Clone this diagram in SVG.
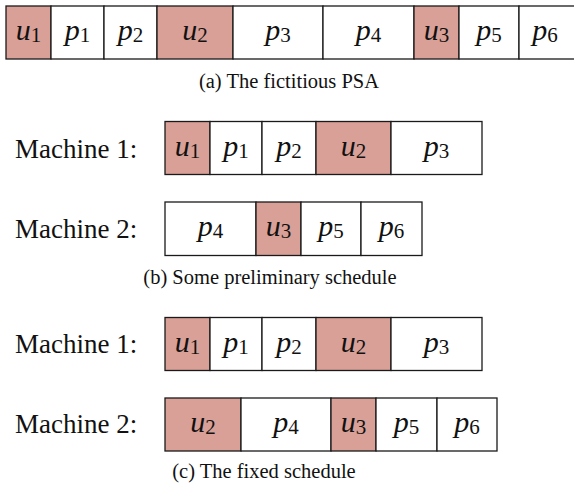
<svg xmlns="http://www.w3.org/2000/svg" width="574" height="487" viewBox="0 0 574 487">
  <style>
    .cell { fill: #ffffff; stroke: #1a1a1a; stroke-width: 1.3; }
    .hl { fill: #d9a097; }
    .math { font-family: "Liberation Serif", "DejaVu Serif", serif; font-style: italic; font-size: 30px; fill: #111; text-anchor: middle; }
    .sub { font-style: normal; font-size: 21px; }
    .label { font-family: "Liberation Serif", "DejaVu Serif", serif; font-size: 27px; fill: #111; }
    .cap { font-family: "Liberation Serif", "DejaVu Serif", serif; font-size: 20.5px; fill: #111; text-anchor: middle; }
  </style>

  <!-- (a) single sequence of jobs -->
  <g id="psa">
    <rect class="cell hl" x="6" y="6" width="45" height="53"/>
    <rect class="cell" x="51" y="6" width="53" height="53"/>
    <rect class="cell" x="104" y="6" width="53" height="53"/>
    <rect class="cell hl" x="157" y="6" width="76" height="53"/>
    <rect class="cell" x="233" y="6" width="90" height="53"/>
    <rect class="cell" x="323" y="6" width="91" height="53"/>
    <rect class="cell hl" x="414" y="6" width="45" height="53"/>
    <rect class="cell" x="459" y="6" width="60" height="53"/>
    <rect class="cell" x="519" y="6" width="60" height="53"/>
    <text class="math" x="28.5" y="40">u<tspan class="sub" dy="2">1</tspan></text>
    <text class="math" x="77.5" y="40">p<tspan class="sub" dy="2">1</tspan></text>
    <text class="math" x="130.5" y="40">p<tspan class="sub" dy="2">2</tspan></text>
    <text class="math" x="195" y="40">u<tspan class="sub" dy="2">2</tspan></text>
    <text class="math" x="278" y="40">p<tspan class="sub" dy="2">3</tspan></text>
    <text class="math" x="368.5" y="40">p<tspan class="sub" dy="2">4</tspan></text>
    <text class="math" x="436.5" y="40">u<tspan class="sub" dy="2">3</tspan></text>
    <text class="math" x="489" y="40">p<tspan class="sub" dy="2">5</tspan></text>
    <text class="math" x="545" y="40">p<tspan class="sub" dy="2">6</tspan></text>
  </g>
  <text class="cap" x="289" y="88">(a) The fictitious PSA</text>

  <!-- (b) preliminary schedule, machine 1 -->
  <g id="prelim-m1">
    <text class="label" x="15" y="157.5">Machine 1:</text>
    <rect class="cell hl" x="165" y="121.5" width="45" height="53"/>
    <rect class="cell" x="210" y="121.5" width="52" height="53"/>
    <rect class="cell" x="262" y="121.5" width="54" height="53"/>
    <rect class="cell hl" x="316" y="121.5" width="75" height="53"/>
    <rect class="cell" x="391" y="121.5" width="91" height="53"/>
    <text class="math" x="187.5" y="155.5">u<tspan class="sub" dy="2">1</tspan></text>
    <text class="math" x="236" y="155.5">p<tspan class="sub" dy="2">1</tspan></text>
    <text class="math" x="289" y="155.5">p<tspan class="sub" dy="2">2</tspan></text>
    <text class="math" x="353.5" y="155.5">u<tspan class="sub" dy="2">2</tspan></text>
    <text class="math" x="436.5" y="155.5">p<tspan class="sub" dy="2">3</tspan></text>
  </g>

  <!-- (b) preliminary schedule, machine 2 -->
  <g id="prelim-m2">
    <text class="label" x="15" y="238">Machine 2:</text>
    <rect class="cell" x="165" y="202" width="91" height="53.5"/>
    <rect class="cell hl" x="256" y="202" width="45" height="53.5"/>
    <rect class="cell" x="301" y="202" width="60" height="53.5"/>
    <rect class="cell" x="361" y="202" width="61" height="53.5"/>
    <text class="math" x="210.5" y="236">p<tspan class="sub" dy="2">4</tspan></text>
    <text class="math" x="278.5" y="236">u<tspan class="sub" dy="2">3</tspan></text>
    <text class="math" x="331" y="236">p<tspan class="sub" dy="2">5</tspan></text>
    <text class="math" x="391.5" y="236">p<tspan class="sub" dy="2">6</tspan></text>
  </g>
  <text class="cap" x="270" y="284">(b) Some preliminary schedule</text>

  <!-- (c) fixed schedule, machine 1 -->
  <g id="fixed-m1">
    <text class="label" x="15" y="352.5">Machine 1:</text>
    <rect class="cell hl" x="165" y="317.5" width="45" height="53"/>
    <rect class="cell" x="210" y="317.5" width="52" height="53"/>
    <rect class="cell" x="262" y="317.5" width="54" height="53"/>
    <rect class="cell hl" x="316" y="317.5" width="75" height="53"/>
    <rect class="cell" x="391" y="317.5" width="91" height="53"/>
    <text class="math" x="187.5" y="351.5">u<tspan class="sub" dy="2">1</tspan></text>
    <text class="math" x="236" y="351.5">p<tspan class="sub" dy="2">1</tspan></text>
    <text class="math" x="289" y="351.5">p<tspan class="sub" dy="2">2</tspan></text>
    <text class="math" x="353.5" y="351.5">u<tspan class="sub" dy="2">2</tspan></text>
    <text class="math" x="436.5" y="351.5">p<tspan class="sub" dy="2">3</tspan></text>
  </g>

  <!-- (c) fixed schedule, machine 2 -->
  <g id="fixed-m2">
    <text class="label" x="15" y="433">Machine 2:</text>
    <rect class="cell hl" x="165" y="398" width="76" height="53"/>
    <rect class="cell" x="241" y="398" width="90" height="53"/>
    <rect class="cell hl" x="331" y="398" width="45" height="53"/>
    <rect class="cell" x="376" y="398" width="61" height="53"/>
    <rect class="cell" x="437" y="398" width="60" height="53"/>
    <text class="math" x="203" y="432">u<tspan class="sub" dy="2">2</tspan></text>
    <text class="math" x="286" y="432">p<tspan class="sub" dy="2">4</tspan></text>
    <text class="math" x="353.5" y="432">u<tspan class="sub" dy="2">3</tspan></text>
    <text class="math" x="406.5" y="432">p<tspan class="sub" dy="2">5</tspan></text>
    <text class="math" x="467" y="432">p<tspan class="sub" dy="2">6</tspan></text>
  </g>
  <text class="cap" x="264" y="478">(c) The fixed schedule</text>

  <!-- no connectors in this figure -->
  <g id="connectors"/>
</svg>
